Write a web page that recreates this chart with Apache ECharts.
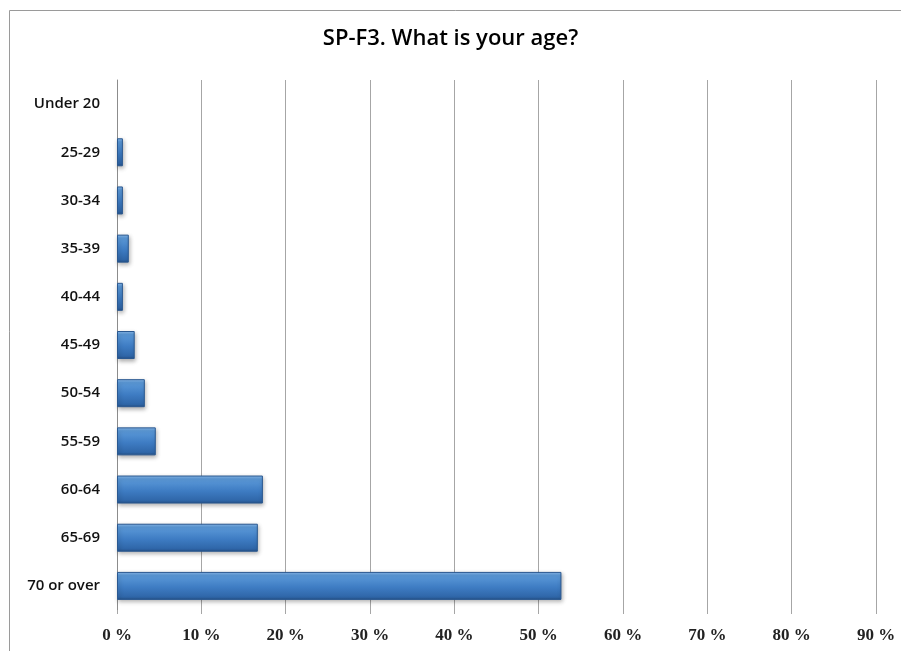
<!DOCTYPE html>
<html>
<head>
<meta charset="utf-8">
<script src="https://cdn.jsdelivr.net/npm/echarts@6/dist/echarts.min.js"></script>
<style>
  html, body { margin: 0; padding: 0; background: #fff; }
  #main { width: 901px; height: 651px; }
</style>
</head>
<body>
<div id="main"></div>
<script>
var categories = ['Under 20', '25-29', '30-34', '35-39', '40-44', '45-49',
                  '50-54', '55-59', '60-64', '65-69', '70 or over'];
var percents = [0, 0.7, 0.7, 1.4, 0.7, 2.1, 3.3, 4.6, 17.3, 16.7, 52.7];
var tickValues = [0, 10, 20, 30, 40, 50, 60, 70, 80, 90];

var barFill = new echarts.graphic.LinearGradient(0, 0, 0, 1, [
    {offset: 0, color: '#8dbdee'},
    {offset: 0.12, color: '#5c9ad9'},
    {offset: 0.55, color: '#3e7cc3'},
    {offset: 0.9, color: '#2f66a8'},
    {offset: 1, color: '#244f85'}
]);

// an empty category gets no outline or shadow
var barData = percents.map(function (v) {
    if (v === 0) {
        return {value: v, itemStyle: {borderWidth: 0, shadowBlur: 0, shadowOffsetX: 0, shadowOffsetY: 0, opacity: 0}};
    }
    return v;
});

var option = {
    backgroundColor: '#ffffff',
    animation: false,
    title: {
        text: 'SP-F3. What is your age?',
        left: 'center',
        top: 23,
        textStyle: {
            fontFamily: 'Open Sans',
            fontSize: 22,
            fontWeight: 600,
            color: '#000'
        }
    },
    graphic: [{
        type: 'rect',
        shape: {x: 9.5, y: 10.5, width: 1000, height: 1000},
        style: {fill: 'none', stroke: '#9a9a9a', lineWidth: 1},
        silent: true
    }],
    grid: {
        left: 117,
        right: 25,
        top: 80,
        bottom: 41
    },
    xAxis: {
        type: 'value',
        min: 0,
        max: 90,
        interval: 10,
        axisLine: {show: false},
        axisTick: {show: true, length: 4, lineStyle: {color: '#a6a6a6'}},
        splitLine: {show: true, lineStyle: {color: '#a6a6a6', width: 1}},
        axisLabel: {
            margin: 17,
            fontFamily: 'Liberation Serif',
            fontWeight: 'bold',
            fontSize: 17,
            color: '#222',
            formatter: function (v) {
                return tickValues.indexOf(v) >= 0 ? v + ' %' : '';
            }
        }
    },
    yAxis: {
        type: 'category',
        data: categories,
        inverse: true,
        axisLine: {show: true, lineStyle: {color: '#8c8c8c'}},
        axisTick: {show: false},
        axisLabel: {
            margin: 17,
            fontFamily: 'Open Sans',
            fontWeight: 600,
            fontSize: 15,
            color: '#111'
        }
    },
    series: [{
        type: 'bar',
        data: barData,
        barWidth: 28,
        itemStyle: {
            color: barFill,
            borderColor: '#2a5890',
            borderWidth: 1,
            shadowBlur: 4,
            shadowOffsetX: 1,
            shadowOffsetY: 2,
            shadowColor: 'rgba(0,0,0,0.3)'
        }
    }]
};

var myChart = echarts.init(document.getElementById('main'));
myChart.setOption(option);
</script>
</body>
</html>
